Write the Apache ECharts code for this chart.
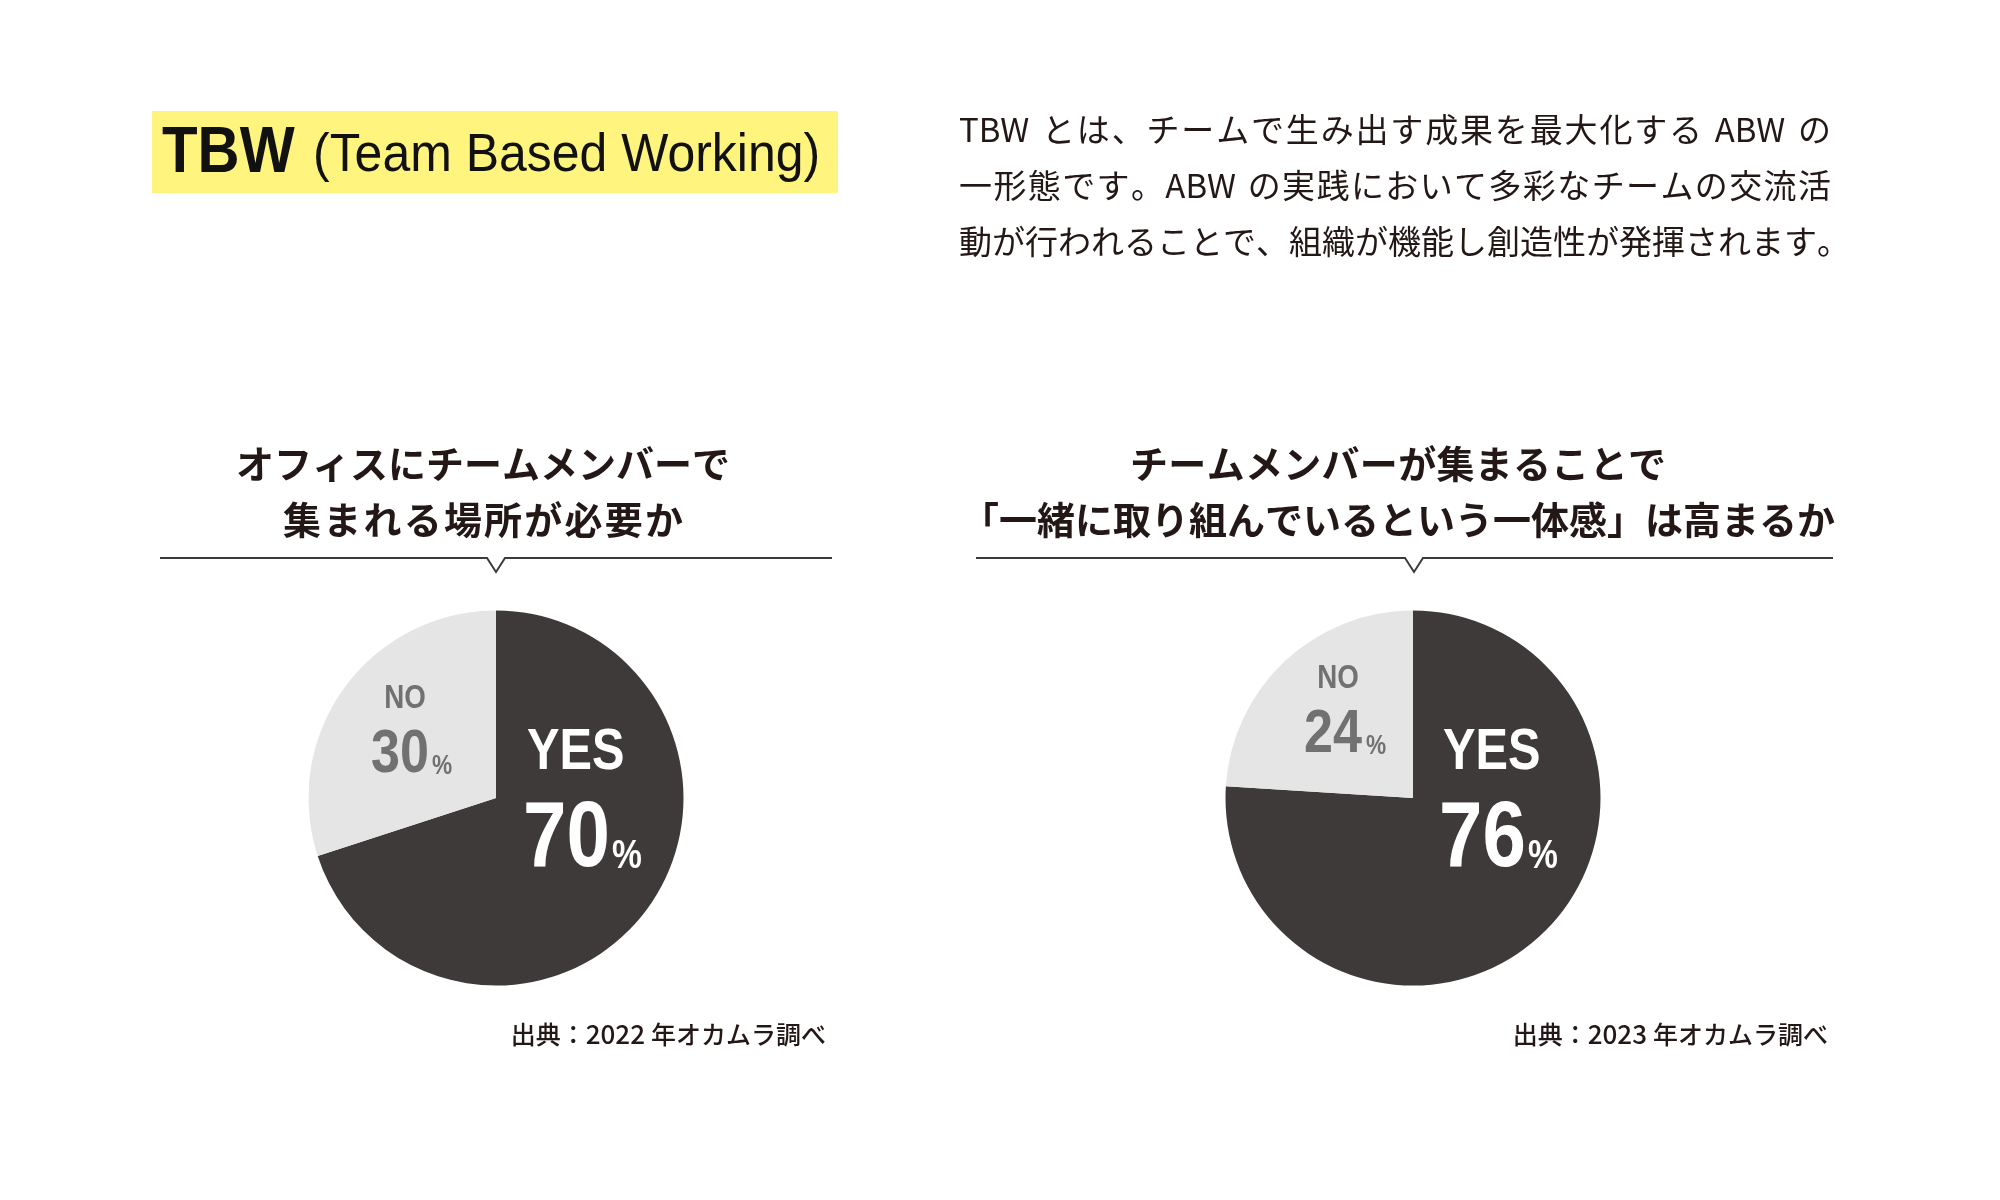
<!DOCTYPE html>
<html>
<head>
<meta charset="utf-8">
<script src="https://cdn.jsdelivr.net/npm/echarts@6/dist/echarts.min.js"></script>
<style>
html,body{margin:0;padding:0;background:#fff;}
#chart{width:2000px;height:1200px;}
</style>
</head>
<body>
<div id="chart"></div>
<script>
// ---- data ----
const categories = ['YES', 'NO'];
const values2022 = [70, 30];
const values2023 = [76, 24];
const headingMain = 'TBW';
const headingSub = '(Team Based Working)';
const descLines = [
  'TBW とは、チームで生み出す成果を最大化する ABW の',
  '一形態です。ABW の実践において多彩なチームの交流活',
  '動が行われることで、組織が機能し創造性が発揮されます。'
];
const titleLeft = ['オフィスにチームメンバーで', '集まれる場所が必要か'];
const titleRight = ['チームメンバーが集まることで', '「一緒に取り組んでいるという一体感」は高まるか'];
const sourceLeft = '出典：2022 年オカムラ調べ';
const sourceRight = '出典：2023 年オカムラ調べ';
const pctSign = '%';

// ---- styles ----
const DARK = '#3e3a39';
const LIGHT = '#e5e5e6';
const INK = '#231815';
const NOGRAY = '#727171';
const JP = '"Noto Sans CJK JP", "Noto Sans", sans-serif';
const LAT = '"Liberation Sans", Arial, sans-serif';

const chart = echarts.init(document.getElementById('chart'), null, {renderer: 'canvas'});

function pieSeries(cx, vals) {
  return {
    type: 'pie',
    center: [cx, 798],
    radius: 187.5,
    startAngle: 90,
    clockwise: true,
    silent: true,
    animation: false,
    z: 1,
    label: {show: false},
    labelLine: {show: false},
    emphasis: {disabled: true},
    itemStyle: {borderWidth: 0},
    data: categories.map((c, i) => ({
      name: c, value: vals[i],
      itemStyle: {color: i === 0 ? DARK : LIGHT}
    }))
  };
}

function txt(x, y, text, font, size, weight, color, align, sx) {
  return {
    type: 'text', x: x, y: y, z: 100, silent: true, scaleX: sx || 1,
    style: {
      text: text, fontFamily: font, fontSize: size, fontWeight: weight,
      fill: color, align: align || 'left', verticalAlign: 'middle'
    }
  };
}

function divider(x1, x2, tip) {
  return {
    type: 'polyline', silent: true, z: 100,
    shape: {points: [[x1, 558], [tip - 9, 558], [tip, 572], [tip + 9, 558], [x2, 558]]},
    style: {stroke: DARK, lineWidth: 2, fill: null, lineJoin: 'miter'}
  };
}

const NSX = 0.84; // horizontal condensing for the number face
function pieLabels(o, vals) {
  return [
    txt(o.noX, o.noY, categories[1], LAT, 33, 'bold', NOGRAY, 'center', NSX),
    txt(o.noNumX, o.noY + 56, String(vals[1]), LAT, 62, 'bold', NOGRAY, 'left', NSX),
    txt(o.noPctX, o.noY + 68, pctSign, LAT, 27, 'bold', NOGRAY, 'left', NSX),
    txt(o.yesX, 753, categories[0], LAT, 58, 'bold', '#ffffff', 'left', NSX),
    txt(o.yesX - 4, 840, String(vals[0]), LAT, 93, 'bold', '#ffffff', 'left', NSX),
    txt(o.yesX + 85, 857, pctSign, LAT, 40, 'bold', '#ffffff', 'left', NSX)
  ];
}

// rich-text line with per-token widths (for tracking / justification)
const mctx = document.createElement('canvas').getContext('2d');
function measure(s, fam, size, weight) {
  mctx.font = (weight || 'normal') + ' ' + size + 'px ' + fam;
  return mctx.measureText(s).width;
}
function richLine(line, x, y, o) {
  const parts = line.match(/[A-Za-z0-9]+| |[^A-Za-z0-9 ]/g);
  const toks = parts.map(p => {
    if (p === ' ') return {t: p, kind: 's', w: o.spaceW};
    if (/^[A-Za-z0-9]+$/.test(p)) return {t: p, kind: 'l', w: measure(p, o.latFont, o.latSize, o.weight)};
    return {t: p, kind: 'j', w: measure(p, JP, o.size, o.weight)};
  });
  const natural = toks.reduce((a, t) => a + t.w, 0);
  let d = o.extra || 0;
  if (o.target) d = (o.target - natural) / (toks.length - 1);
  const rich = {};
  let text = '';
  let total = 0;
  const lh = Math.round(o.size * 1.4);
  toks.forEach((t, i) => {
    const w = t.w + (i < toks.length - 1 ? d : 0);
    total += w;
    const key = 't' + i;
    rich[key] = {
      width: w, fill: o.color, verticalAlign: 'middle', lineHeight: lh, height: lh,
      fontFamily: t.kind === 'l' ? o.latFont : JP,
      fontSize: t.kind === 'l' ? o.latSize : o.size,
      fontWeight: o.weight || 'normal'
    };
    text += '{' + key + '|' + (t.kind === 's' ? ' ' : t.t) + '}';
  });
  let left = x;
  if (o.align === 'center') left = x - total / 2;
  if (o.align === 'right') left = x - total;
  return {
    type: 'text', x: left, y: y, z: 100, silent: true,
    style: {text: text, rich: rich, fill: o.color, align: 'left', verticalAlign: 'middle'}
  };
}

const descOpt = (target) => ({size: 33, latFont: JP, latSize: 33, spaceW: 9, color: INK, target: target});
const titleOpt = (extra) => ({size: 38, latFont: JP, latSize: 38, spaceW: 10, color: INK, weight: 'bold', align: 'center', extra: extra});
const srcOpt = {size: 25, latFont: JP, latSize: 26, spaceW: 6, color: INK, weight: 500, align: 'right'};

const graphics = [
  {type: 'rect', silent: true, z: 50, shape: {x: 152, y: 111, width: 686, height: 82}, style: {fill: '#fff57e'}},
  txt(162, 154, headingMain, LAT, 64, 'bold', '#111111', 'left', 0.91),
  txt(313, 156, headingSub, LAT, 54, 'normal', '#111111', 'left', 0.925),
  richLine(descLines[0], 959, 129, descOpt(872)),
  richLine(descLines[1], 959, 185, descOpt(872)),
  richLine(descLines[2], 959, 241, descOpt(0)),
  richLine(titleLeft[0], 483, 464, titleOpt(0)),
  richLine(titleLeft[1], 483, 520, titleOpt(2.2)),
  richLine(titleRight[0], 1398, 464, titleOpt(0.3)),
  richLine(titleRight[1], 1398, 520, titleOpt(0)),
  divider(160, 832, 496),
  divider(976, 1833, 1414),
  ...pieLabels({noX: 405, noY: 699, noNumX: 371, noPctX: 432, yesX: 527}, values2022),
  ...pieLabels({noX: 1338, noY: 679, noNumX: 1304, noPctX: 1366, yesX: 1443}, values2023),
  richLine(sourceLeft, 826, 1034, srcOpt),
  richLine(sourceRight, 1828, 1034, srcOpt)
];

chart.setOption({
  animation: false,
  backgroundColor: '#ffffff',
  series: [pieSeries(496, values2022), pieSeries(1413, values2023)],
  graphic: {elements: graphics}
});
</script>
</body>
</html>
